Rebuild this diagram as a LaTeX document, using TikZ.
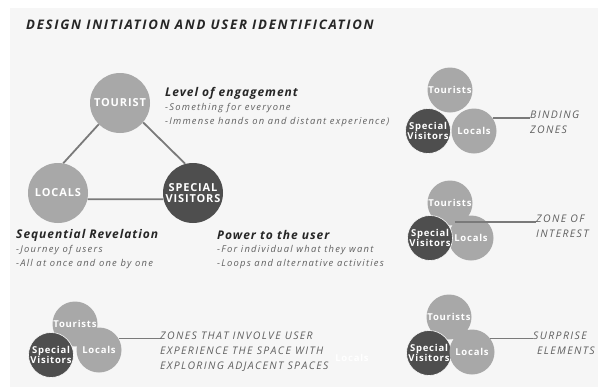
\documentclass[tikz,border=0pt]{standalone}
\usepackage{fontspec}
\setmainfont{Open Sans}
\newfontfamily\spaced[LetterSpace=8]{Open Sans}
\newfontfamily\wider[LetterSpace=13]{Open Sans}
\usetikzlibrary{positioning}

\definecolor{panel}{HTML}{F6F6F6}
\definecolor{lightuser}{HTML}{A8A8A8}
\definecolor{darkuser}{HTML}{4E4E4E}
\definecolor{notegray}{HTML}{606060}
\definecolor{linkgray}{HTML}{7A7A7A}

\tikzset{
  title/.style={anchor=west, inner sep=0pt, font=\wider\bfseries\itshape\fontsize{13.2}{13}\selectfont, text=black!85},
  bigcircle/.style={circle, minimum size=60pt, inner sep=0pt, align=center, text=white,
    font=\spaced\bfseries\fontsize{11}{10.5}\selectfont},
  smallcircle/.style={circle, minimum size=45pt, inner sep=0pt, align=center, text=white,
    font=\spaced\bfseries\fontsize{9.5}{10}\selectfont},
  light/.style={fill=lightuser},
  dark/.style={fill=darkuser, draw=white, line width=0.6pt},
  connector/.style={draw=linkgray, line width=1.8pt},
  heading/.style={anchor=west, inner sep=0pt, font=\spaced\bfseries\itshape\fontsize{12}{12}\selectfont, text=black!85},
  notes/.style={anchor=north west, inner sep=0pt, align=left, text=notegray,
    font=\wider\itshape\fontsize{9.4}{14}\selectfont},
  zonetext/.style={anchor=north west, inner sep=0pt, align=left, text=notegray,
    font=\wider\itshape\fontsize{10.5}{15}\selectfont},
}

\begin{document}
\begin{tikzpicture}[x=1pt,y=-1pt]
  \useasboundingbox (0,0) rectangle (598,389);
  \fill[panel] (10,8) rectangle (598,387);

  \node[title] (title) at (26,25) {DESIGN INITIATION AND USER IDENTIFICATION};

  % users triangle
  \begin{scope}
    \node[bigcircle, light] (tourist) at (120,103) {TOURIST};
    \node[bigcircle, light] (locals) at (58,193) {LOCALS};
    \node[bigcircle, dark, draw=none] (visitors) at (193,193) {SPECIAL\\VISITORS};
    \draw[connector] (tourist.-135) -- (locals.80);
    \draw[connector] (tourist.-40) -- (visitors.105);
    \draw[connector] (locals.-12) -- (visitors.192);
  \end{scope}

  % texts round the triangle
  \node[heading] (engage) at (165,93) {Level of engagement};
  \node[notes] (engagenotes) at (165,103) {-Something for everyone\\-Immense hands on and distant experience)};
  \node[heading] (reveal) at (16,235) {Sequential Revelation};
  \node[notes] (revealnotes) at (16,245) {-Journey of users\\-All at once and one by one};
  \node[heading] (power) at (217,235) {Power to the user};
  \node[notes] (powernotes) at (217,245) {-For individual what they want\\-Loops and alternative activities};

  % adjacent spaces
  \begin{scope}
    \node[smallcircle, light] (t1) at (75,324) {Tourists};
    \node[smallcircle, light] (l1) at (99,350) {Locals};
    \node[smallcircle, dark] (s1) at (51,355) {Special\\Visitors};
    \node[zonetext] (zone1) at (160,332) {ZONES THAT INVOLVE USER\\EXPERIENCE THE SPACE WITH\\EXPLORING ADJACENT SPACES};
    \draw[connector, line width=1.5pt] (l1.30) -- (l1.30 -| zone1.west);
    \node[smallcircle, text=white] (ghost) at (352,358) {Locals};
  \end{scope}

  % binding zones
  \begin{scope}
    \node[smallcircle, light] (t2) at (450,90) {Tourists};
    \node[smallcircle, light] (l2) at (474,131) {Locals};
    \node[smallcircle, dark] (s2) at (428,131) {Special\\Visitors};
    \node[zonetext] (bind) at (530,111) {BINDING\\ZONES};
    \draw[connector, line width=1.5pt] (l2.35) -- (l2.35 -| bind.west);
  \end{scope}

  % zone of interest
  \begin{scope}
    \node[smallcircle, light] (t3) at (450,203) {Tourists};
    \node[smallcircle, light] (l3) at (471,238) {Locals};
    \node[smallcircle, dark] (s3) at (430,238) {Special\\Visitors};
    \node[zonetext] (interest) at (536,215) {ZONE OF\\INTEREST};
    \draw[connector, line width=1.5pt] (l3.135) -- (l3.135 -| interest.west);
  \end{scope}

  % surprise elements
  \begin{scope}
    \node[smallcircle, light] (t4) at (449,317) {Tourists};
    \node[smallcircle, dark] (s4) at (429,353) {Special\\Visitors};
    \node[smallcircle, light] (l4) at (472,352) {Locals};
    \node[zonetext] (surprise) at (533,332) {SURPRISE\\\hspace*{4pt}ELEMENTS};
    \draw[connector, line width=1.5pt] (l4.36) -- (l4.36 -| surprise.west);
  \end{scope}
\end{tikzpicture}
\end{document}
